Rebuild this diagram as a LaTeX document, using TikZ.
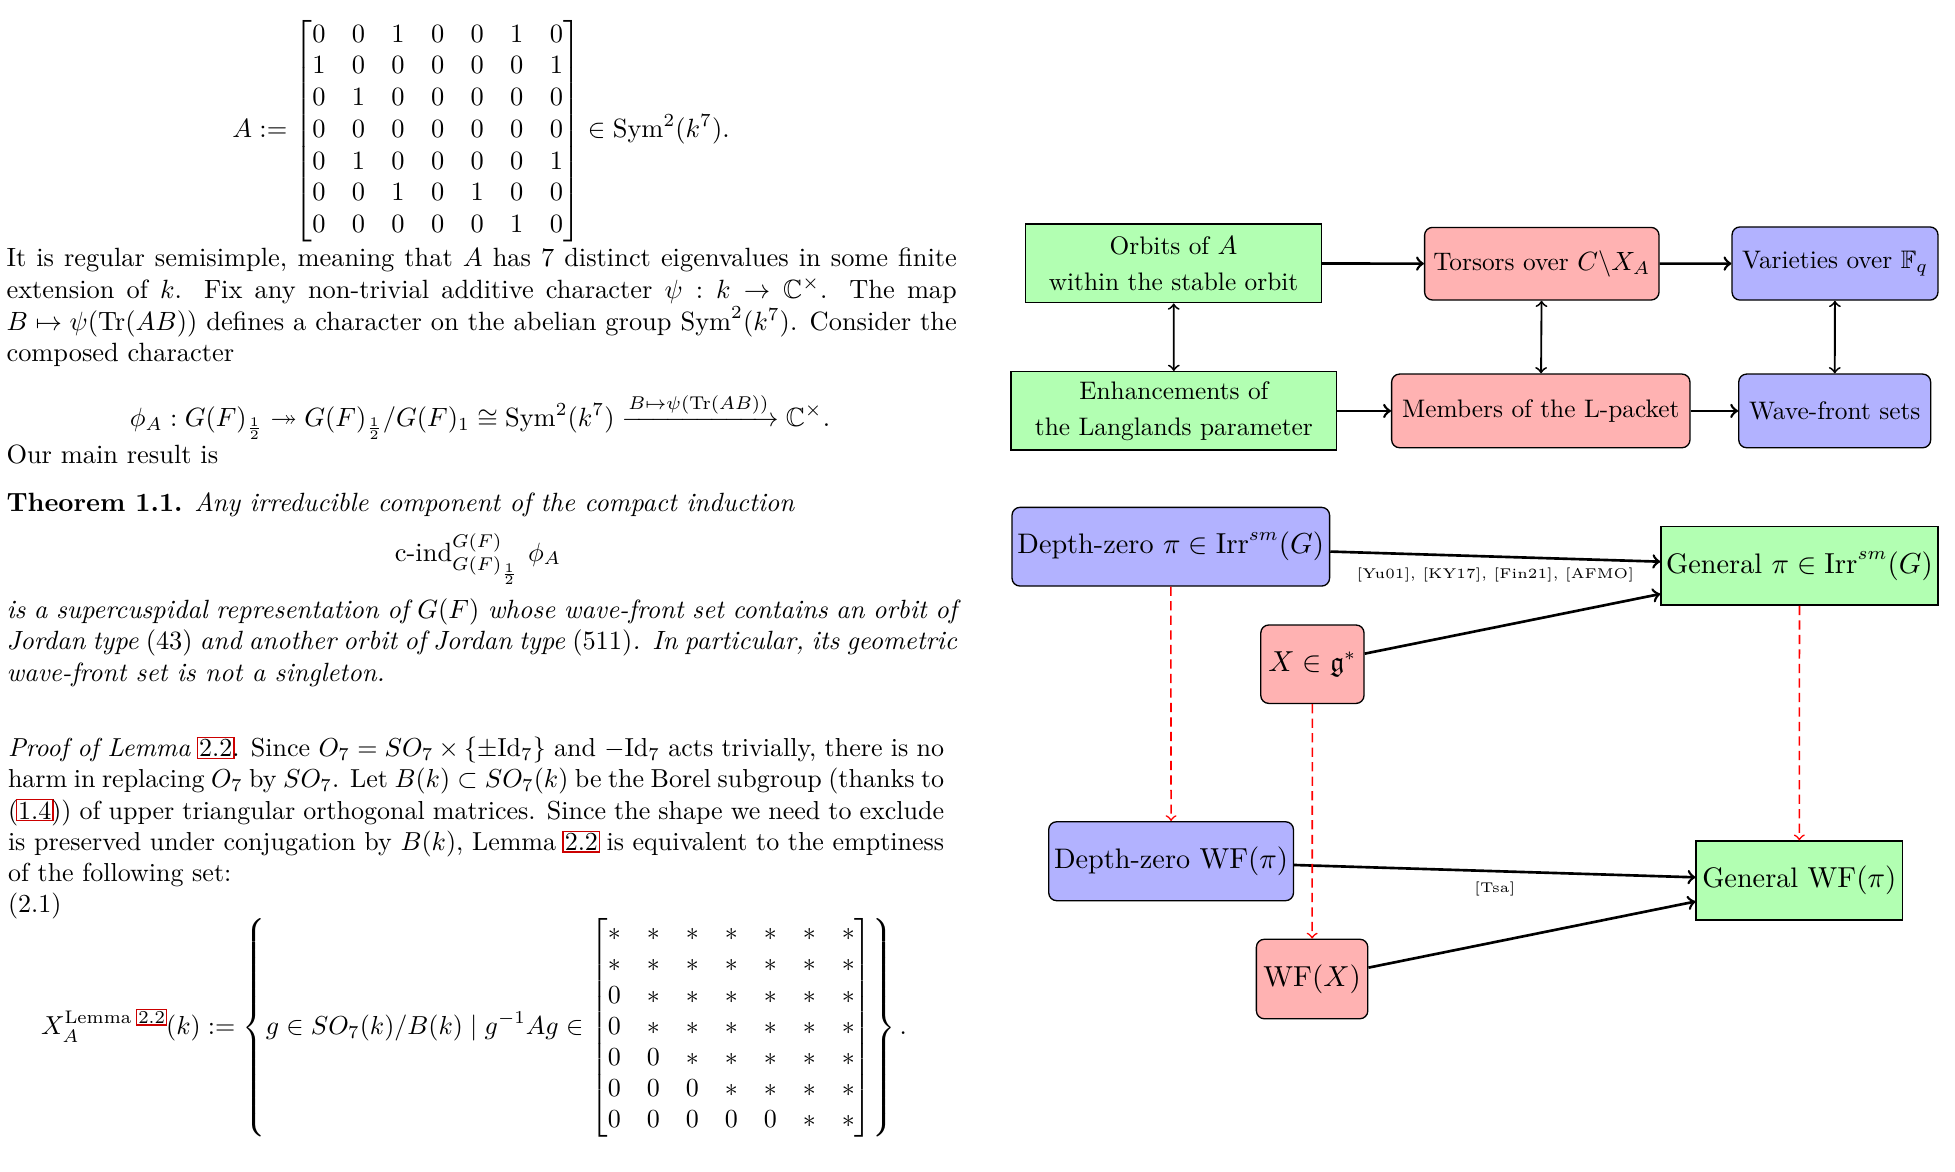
\documentclass[tikz,border=0pt]{standalone}
\usepackage{amsmath}
\usepackage{amssymb}
\usepackage{mathtools}
\usepackage{tikz}
\usepackage{xcolor}

% hyperref-like frame round a reference number
\newcommand{\reflink}[1]{{\setlength{\fboxsep}{0.4pt}\setlength{\fboxrule}{0.5pt}\kern-0.9pt\textcolor{red!80!black}{\fbox{\textcolor{black}{#1}}}\kern-0.9pt}}

\begin{document}
\begin{tikzpicture}[x=0.3788pt,y=-0.3788pt,
   txt/.style={anchor=base west,inner sep=0pt,text width=360pt,align=justify},
   dims/.style 2 args={minimum width=#1pt,minimum height=#2pt},
   greenbox/.style={draw,line width=0.5pt,fill=green!30,align=center,inner xsep=2pt},
   redbox/.style={draw,line width=0.5pt,fill=red!30,rounded corners=3pt,align=center,inner xsep=2pt},
   bluebox/.style={draw,line width=0.5pt,fill=blue!30,rounded corners=3pt,align=center,inner xsep=2pt},
   topfont/.style={font=\fontsize{9.6}{13.6}\selectfont},
   lowfont/.style={font=\fontsize{10.7}{12.8}\selectfont},
   reflabel/.style={font=\fontsize{5.35}{6.4}\selectfont,inner sep=3.6pt}]
   \useasboundingbox (0,0) rectangle (1955,1171);
   \fill[white] (0,0) rectangle (1955,1171);

   % left: text of the paper
   \begin{scope}
   \clip (0,0) rectangle (960,1171);
   \node (mat_a) at (481,131) {$\displaystyle A := \begin{bmatrix}
      0&0&1&0&0&1&0\\ 1&0&0&0&0&0&1\\ 0&1&0&0&0&0&0\\ 0&0&0&0&0&0&0\\
      0&1&0&0&0&0&1\\ 0&0&1&0&1&0&0\\ 0&0&0&0&0&1&0
      \end{bmatrix} \in \mathrm{Sym}^2(k^7).$};
   \node[txt] (para_1) at (6,266.7) {It is regular semisimple, meaning that $A$ has 7 distinct eigenvalues in some finite\linebreak
      extension of $k$. Fix any non-trivial additive character $\psi : k \to \mathbb{C}^\times$. The map\linebreak
      $B \mapsto \psi(\mathrm{Tr}(AB))$ defines a character on the abelian group $\mathrm{Sym}^2(k^7)$. Consider the\linebreak
      composed character};
   \node[anchor=base] (phi_a) at (480,426.7) {$\displaystyle \phi_A : G(F)_{\frac{1}{2}} \twoheadrightarrow G(F)_{\frac{1}{2}}/G(F)_1 \cong \mathrm{Sym}^2(k^7) \xrightarrow{B\mapsto\psi(\mathrm{Tr}(AB))} \mathbb{C}^\times.$};
   \node[txt] (main_res) at (6,463) {Our main result is};
   \node[txt] (thm_head) at (6,511.7) {\textbf{Theorem 1.1.} \textit{Any irreducible component of the compact induction}};
   \node[anchor=base] (c_ind) at (478,561) {$\displaystyle \text{c-ind}_{G(F)_{\frac{1}{2}}}^{G(F)}\ \phi_A$};
   \node[txt,font=\itshape] (thm_body) at (6,618.3) {is a supercuspidal representation of $G(F)$ whose wave-front set contains an orbit of\linebreak
      Jordan type $(43)$ and another orbit of Jordan type $(511)$. In particular, its geometric\linebreak
      wave-front set is not a singleton.};
   \node[txt,scale=0.985] (proof_p) at (7.5,756.7) {\textit{Proof of Lemma} \reflink{2.2}. Since $O_7 = SO_7 \times \{\pm\mathrm{Id}_7\}$ and $-\mathrm{Id}_7$ acts trivially, there is no\linebreak
      harm in replacing $O_7$ by $SO_7$. Let $B(k) \subset SO_7(k)$ be the Borel subgroup (thanks to\linebreak
      (\reflink{1.4})) of upper triangular orthogonal matrices. Since the shape we need to exclude\linebreak
      is preserved under conjugation by $B(k)$, Lemma \reflink{2.2} is equivalent to the emptiness\linebreak
      of the following set:\\(2.1)};
   \node[scale=0.985] (x_lemma) at (474,1028) {$\displaystyle X_A^{\text{Lemma \reflink{2.2}}}(k) := \left\{ g \in SO_7(k)/B(k) \mid g^{-1}Ag \in \begin{bmatrix}
      *&*&*&*&*&*&*\\ *&*&*&*&*&*&*\\ 0&*&*&*&*&*&*\\ 0&*&*&*&*&*&*\\
      0&0&*&*&*&*&*\\ 0&0&0&*&*&*&*\\ 0&0&0&0&0&*&*
      \end{bmatrix}\right\}.$};
   \end{scope}

   % right, upper diagram
   \node[greenbox,topfont,dims={112.1}{29.8}] (orbits) at (1173.6,263.4) {Orbits of $A$\\within the stable orbit};
   \node[redbox,topfont,dims={88.8}{27.5}] (torsors) at (1541.8,263.7) {Torsors over $C\backslash X_A$};
   \node[bluebox,topfont,dims={78}{27.7}] (varieties) at (1835,263.5) {Varieties over $\mathbb{F}_q$};
   \node[greenbox,topfont,dims={123.4}{29.7}] (enhance) at (1173.9,410.9) {Enhancements of\\the Langlands parameter};
   \node[redbox,topfont,dims={113}{27.9}] (members) at (1540.8,410.9) {Members of the L-packet};
   \node[bluebox,topfont,dims={72.7}{27.9}] (wavefront) at (1834.7,410.9) {Wave-front sets};
   \path[->,line width=1pt]
   (orbits) edge (torsors)
   (torsors) edge (varieties)
   (enhance) edge (members)
   (members) edge (wavefront);
   \path[<->,line width=0.7pt]
   (orbits) edge (enhance)
   (torsors) edge (members)
   (varieties) edge (wavefront);

   % right, lower diagram
   \node[bluebox,lowfont,dims={120.3}{29.8}] (dz_pi) at (1170.8,546.7) {Depth-zero $\pi \in \mathrm{Irr}^{sm}(G)$};
   \node[greenbox,lowfont,dims={104.9}{29.7}] (gen_pi) at (1799.5,565.9) {General $\pi \in \mathrm{Irr}^{sm}(G)$};
   \node[redbox,lowfont,dims={39.1}{29.7}] (x_g) at (1312.4,664.2) {$X \in \mathfrak{g}^*$};
   \node[bluebox,lowfont,dims={92.7}{29.9}] (dz_wf) at (1171.1,861.2) {Depth-zero $\mathrm{WF}(\pi)$};
   \node[greenbox,lowfont,dims={78.2}{29.9}] (gen_wf) at (1799.3,880.5) {General $\mathrm{WF}(\pi)$};
   \node[redbox,lowfont,dims={42.2}{30.1}] (wf_x) at (1312.1,979) {$\mathrm{WF}(X)$};
   \path[->,line width=1pt]
   (dz_pi) edge node[below,reflabel] {[Yu01], [KY17], [Fin21], [AFMO]} (gen_pi)
   (x_g) edge (gen_pi)
   (dz_wf) edge node[below,reflabel] {[Tsa]} (gen_wf)
   (wf_x) edge (gen_wf);
   \path[->,red,semithick,dash pattern=on 3.5pt off 2pt]
   (dz_pi) edge (dz_wf)
   (x_g) edge (wf_x)
   (gen_pi) edge (gen_wf);
\end{tikzpicture}
\end{document}
